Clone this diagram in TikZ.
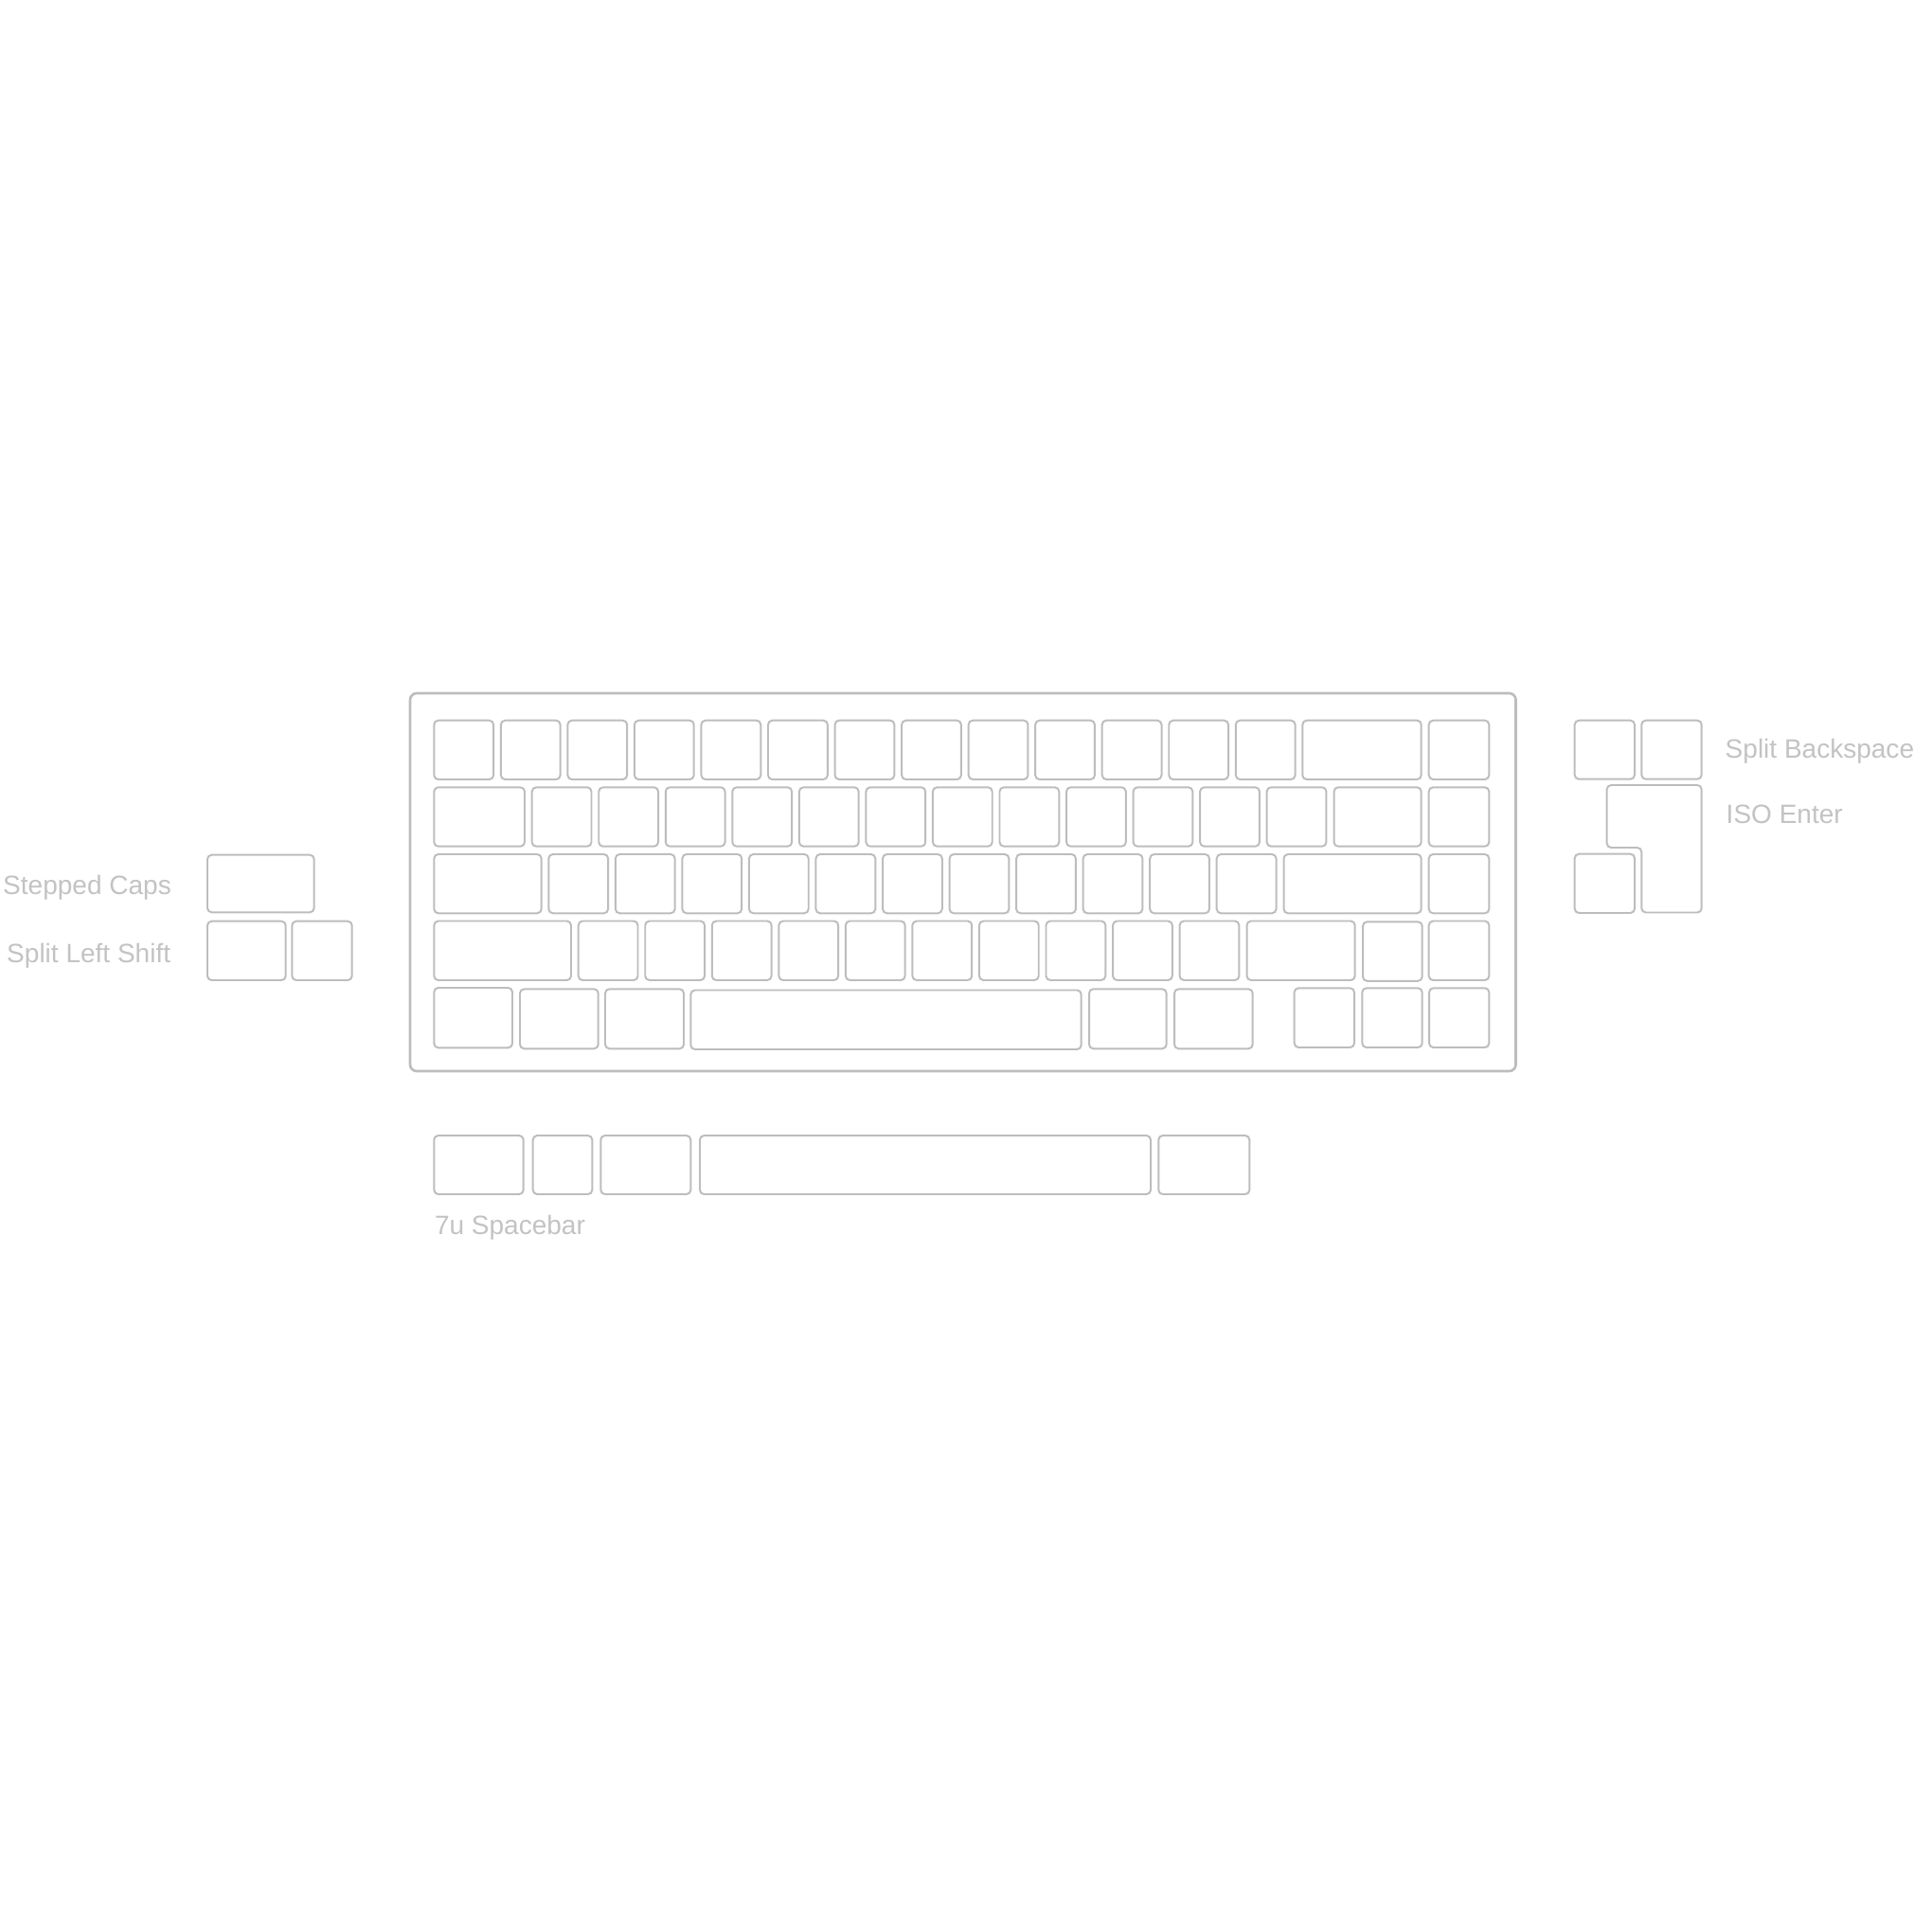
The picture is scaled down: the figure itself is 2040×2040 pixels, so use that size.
\documentclass[tikz,border=0pt]{standalone}
\usepackage{fontspec}
\setmainfont{Liberation Sans}
\definecolor{kg}{HTML}{BDBDBD}
\definecolor{tg}{HTML}{C3C3C3}
\begin{document}
\begin{tikzpicture}[x=0.01cm,y=-0.01cm,
  key/.style={draw=kg,line width=0.56pt,rounded corners=0.045cm},
  case/.style={draw=kg,line width=0.75pt,rounded corners=0.07cm},
  lbl/.style={text=tg,inner sep=0pt,outer sep=0pt,font=\fontsize{7.97pt}{9pt}\selectfont}]
\useasboundingbox[fill=white] (0,0) rectangle (2040,2040);

% case
\draw[case] (433,732) rectangle (1600.5,1131);

% row 1
\foreach \i in {0,...,12} \draw[key] ({458.3+\i*70.54},760.7) rectangle ++(62.8,62.3);
\draw[key] (1375.3,760.7) rectangle (1500.7,823);
\draw[key] (1508.7,760.7) rectangle (1572.3,823);

% row 2
\draw[key] (458.3,831.3) rectangle (554,893.7);
\foreach \i in {0,...,11} \draw[key] ({561.7+\i*70.54},831.3) rectangle ++(62.8,62.4);
\draw[key] (1408.5,831.3) rectangle (1500.7,893.7);
\draw[key] (1508.7,831.3) rectangle (1572.3,893.7);

% row 3
\draw[key] (458.3,902) rectangle (571.7,964.3);
\foreach \i in {0,...,10} \draw[key] ({579.3+\i*70.54},902) rectangle ++(62.8,62.3);
\draw[key] (1355.5,902) rectangle (1500.7,964.3);
\draw[key] (1508.7,902) rectangle (1572.3,964.3);

% row 4
\draw[key] (458.3,972.5) rectangle (603,1035);
\foreach \i in {0,...,9} \draw[key] ({610.7+\i*70.54},972.5) rectangle ++(62.8,62.5);
\draw[key] (1316.5,972.5) rectangle (1430.7,1035);
\draw[key] (1439,973.3) rectangle (1501.7,1035.8);
\draw[key] (1508.7,972.5) rectangle (1572.3,1035);

% row 5
\draw[key] (458.3,1043) rectangle (541,1106.3);
\draw[key] (549,1044.3) rectangle (631.7,1107.3);
\draw[key] (639,1044.3) rectangle (722,1107.3);
\draw[key] (729.3,1045.5) rectangle (1141.7,1108);
\draw[key] (1150,1044.3) rectangle (1231.7,1107.3);
\draw[key] (1240,1044.3) rectangle (1322.7,1107.3);
\draw[key] (1366.7,1043.3) rectangle (1430,1106);
\draw[key] (1438.3,1043.3) rectangle (1501.7,1106);
\draw[key] (1509,1043.3) rectangle (1572.3,1106);

% 7u spacebar alternative row
\draw[key] (458.3,1199) rectangle (552.7,1261);
\draw[key] (562.7,1199) rectangle (625.3,1261);
\draw[key] (634.3,1199) rectangle (729.3,1261);
\draw[key] (739,1199) rectangle (1215,1261);
\draw[key] (1223.3,1199) rectangle (1319.3,1261);

% left alternatives
\draw[key] (219,902.7) rectangle (331.7,963.3);
\draw[key] (219,972.7) rectangle (301.7,1035);
\draw[key] (308.3,972.7) rectangle (371.7,1035);

% right alternatives
\draw[key] (1662.7,760.7) rectangle (1726,822.7);
\draw[key] (1733.3,760.7) rectangle (1796.7,822.7);
\draw[key] (1662.7,901.7) rectangle (1726,964);
\draw[key] (1696.7,829) -- (1796.7,829) -- (1796.7,963.5) -- (1733.3,963.5) -- (1733.3,895) -- (1696.7,895) -- cycle;

% labels
\node[lbl,anchor=base west] (sb) at (1821.7,800) {Split Backspace};
\node[lbl,anchor=base west] (iso) at (1822.7,869) {ISO Enter};
\node[lbl,anchor=base] (sc) at (92,944) {Stepped Caps};
\node[lbl,anchor=base] (sls) at (93.7,1016) {Split Left Shift};
\node[lbl,anchor=base west] (sp) at (459,1303) {7u Spacebar};
\end{tikzpicture}
\end{document}
